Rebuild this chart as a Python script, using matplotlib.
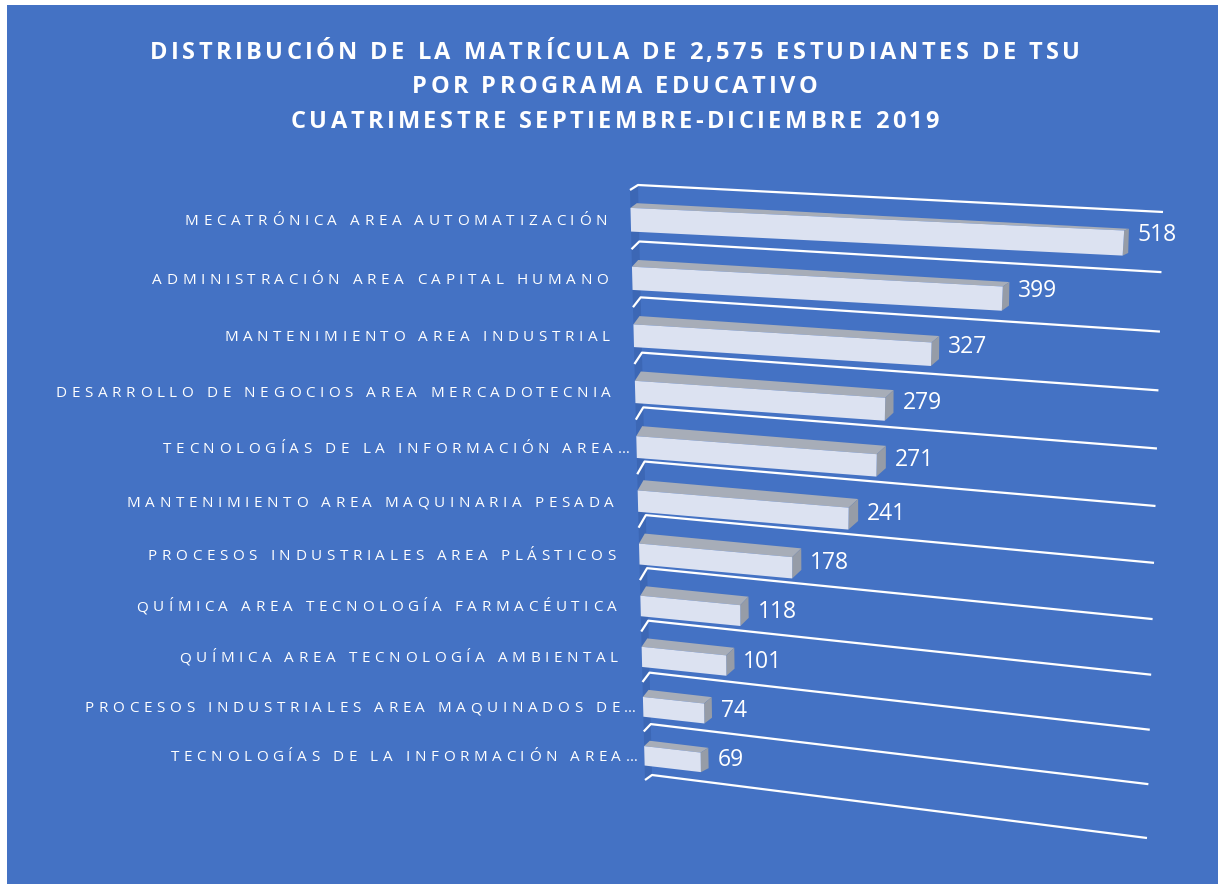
import numpy as np
import matplotlib
matplotlib.use("Agg")
import matplotlib.pyplot as plt
from matplotlib.patches import Polygon, Rectangle
from matplotlib.font_manager import FontProperties, findfont, get_font

# chart data
title_lines = [
    "DISTRIBUCIÓN DE LA MATRÍCULA DE 2,575 ESTUDIANTES DE TSU",
    "POR PROGRAMA EDUCATIVO",
    "CUATRIMESTRE SEPTIEMBRE-DICIEMBRE 2019",
]
categories = [
    "MECATRÓNICA AREA AUTOMATIZACIÓN",
    "ADMINISTRACIÓN AREA CAPITAL HUMANO",
    "MANTENIMIENTO AREA INDUSTRIAL",
    "DESARROLLO DE NEGOCIOS AREA MERCADOTECNIA",
    "TECNOLOGÍAS DE LA INFORMACIÓN AREA…",
    "MANTENIMIENTO AREA MAQUINARIA PESADA",
    "PROCESOS INDUSTRIALES AREA PLÁSTICOS",
    "QUÍMICA AREA TECNOLOGÍA FARMACÉUTICA",
    "QUÍMICA AREA TECNOLOGÍA AMBIENTAL",
    "PROCESOS INDUSTRIALES AREA MAQUINADOS DE…",
    "TECNOLOGÍAS DE LA INFORMACIÓN AREA…",
]
students = [518, 399, 327, 279, 271, 241, 178, 118, 101, 74, 69]

W, H, DPI = 1218, 884, 100
XMAX = 550
NROWS = len(categories)
FONT = "Open Sans"

BG = "#4472C4"
WALL = "#3C67B5"
FRONT = "#DCE2F1"
TOP = "#A7ADB8"
SIDE = "#969CA7"

# perspective of the 3-D plot area: corners for (0,0), (max,0), (0,n), (max,n)
front_corners = [(630, 190), (1158, 213), (645, 780), (1116, 836)]
back_corners = [(638, 185), (1163, 212), (652, 775), (1147, 838)]


def homography(dst):
    src = [(0, 0), (1, 0), (0, 1), (1, 1)]
    rows = []
    for (x, y), (u, v) in zip(src, dst):
        rows.append([x, y, 1, 0, 0, 0, -u * x, -u * y, -u])
        rows.append([0, 0, 0, x, y, 1, -v * x, -v * y, -v])
    _, _, vt = np.linalg.svd(np.array(rows, dtype=float))
    return vt[-1].reshape(3, 3)


HF = homography(front_corners)
HB = homography(back_corners)


def proj(Hm, value, row):
    p = Hm @ np.array([value / XMAX, row / NROWS, 1.0])
    return np.array([p[0] / p[2], p[1] / p[2]])


def front(value, row):
    return proj(HF, value, row)


def back(value, row):
    return proj(HB, value, row)


def bar_back(value, row, depth=0.8):
    f = front(value, row)
    return f + depth * (back(value, row) - f)


def spaced_text(ax, x, y, s, fp, track, ha="right"):
    font = get_font(findfont(fp))
    font.set_size(fp.get_size_in_points(), DPI)
    adv = [font.load_char(ord(c)).linearHoriAdvance / 65536 for c in s]
    total = sum(adv) + track * (len(s) - 1)
    if ha == "right":
        x0 = x - total
    elif ha == "center":
        x0 = x - total / 2
    else:
        x0 = x
    for c, a in zip(s, adv):
        ax.text(x0, y, c, fontproperties=fp, color="white", ha="left", va="baseline")
        x0 += a + track


fig = plt.figure(figsize=(W / DPI, H / DPI), dpi=DPI, facecolor="white")
ax = fig.add_axes([0, 0, 1, 1])
ax.set_xlim(0, W)
ax.set_ylim(H, 0)
ax.axis("off")

ax.add_patch(Rectangle((7, 5), W - 7, H - 5, facecolor=BG, edgecolor="none"))

# side wall
wall = [front(0, 0), back(0, 0), back(0, NROWS), front(0, NROWS)]
ax.add_patch(Polygon(wall, closed=True, facecolor=WALL, edgecolor="none", zorder=1))

# gridlines
for k in range(NROWS + 1):
    pts = np.array([front(0, k), back(0, k), back(XMAX, k)])
    ax.plot(pts[:, 0], pts[:, 1], color="white", lw=1.6, solid_capstyle="butt", zorder=2)

# bars
for i, val in enumerate(students):
    r0, r1 = i + 0.3, i + 0.7
    face = [front(0, r0), front(val, r0), front(val, r1), front(0, r1)]
    top = [front(0, r0), front(val, r0), bar_back(val, r0), bar_back(0, r0)]
    side = [front(val, r0), bar_back(val, r0), bar_back(val, r1), front(val, r1)]
    ax.add_patch(Polygon(top, closed=True, facecolor=TOP, edgecolor="none", zorder=3))
    ax.add_patch(Polygon(side, closed=True, facecolor=SIDE, edgecolor="none", zorder=3))
    ax.add_patch(Polygon(face, closed=True, facecolor=FRONT, edgecolor="none", zorder=4))

    # value label
    end = bar_back(val, (r0 + r1) / 2)
    mid = front(val, (r0 + r1) / 2)
    lift = 10 - 0.6 * i
    ax.text(end[0] + 9, mid[1] - lift + 8, str(val), color="white", fontsize=16.5,
            family=FONT, ha="left", va="baseline", zorder=5)

# category labels
label_fp = FontProperties(family=FONT, size=11)
for i, name in enumerate(categories):
    p = front(0, i + 0.5)
    pad = 7 if name.endswith("…") else 24
    spaced_text(ax, p[0] - pad, p[1] + 5.5, name, label_fp, 4.6, ha="right")

# title
title_fp = FontProperties(family=FONT, size=17, weight="bold")
for line, base in zip(title_lines, [59, 93, 128]):
    spaced_text(ax, 615, base, line, title_fp, 3.4, ha="center")

fig.savefig("out.png", dpi=DPI, facecolor=fig.get_facecolor())
